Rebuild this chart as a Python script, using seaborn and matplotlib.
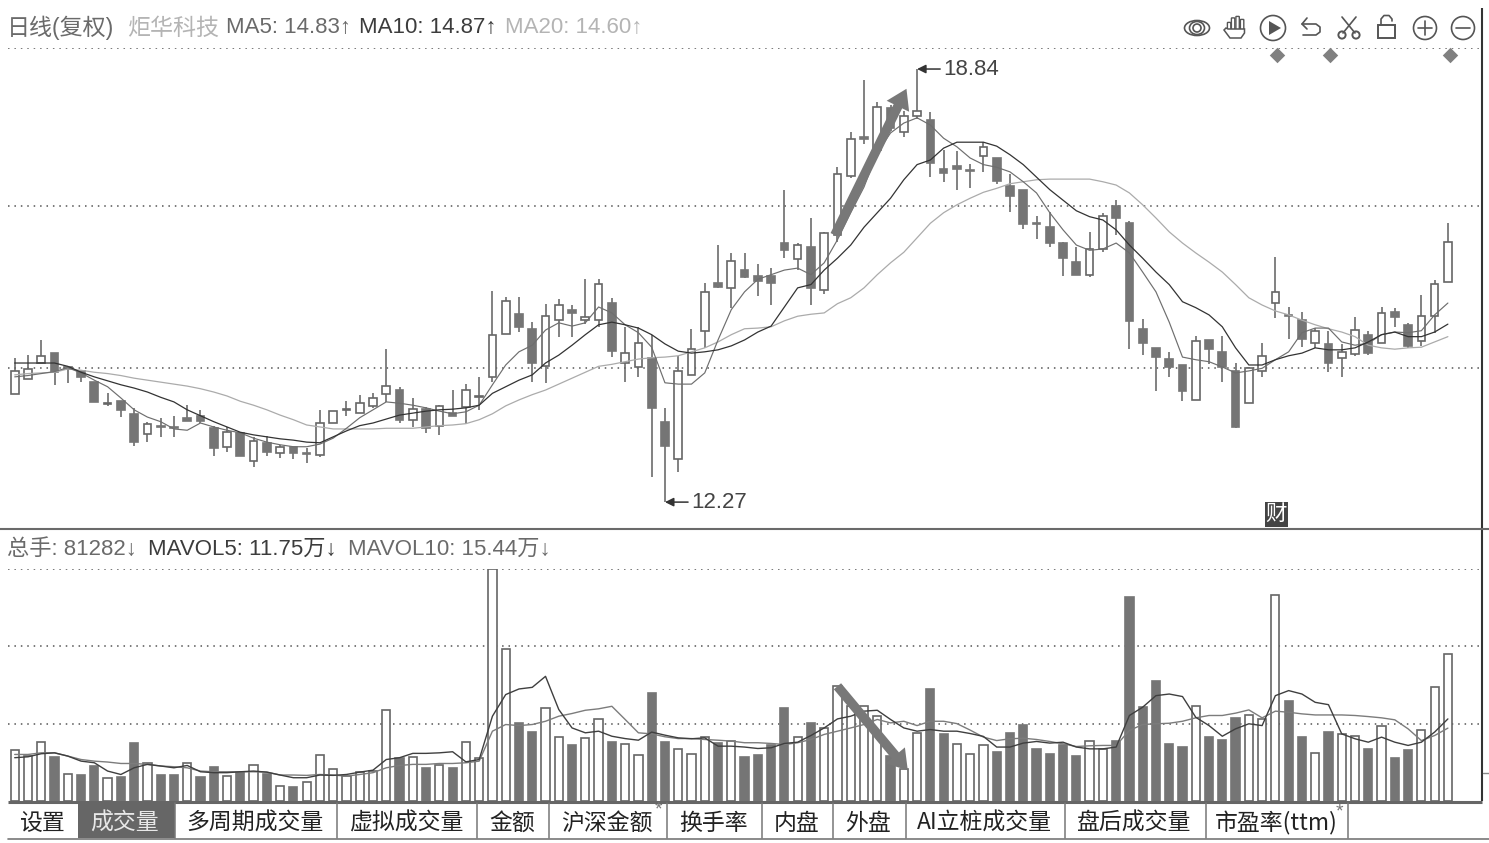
import matplotlib
matplotlib.use("Agg")
import matplotlib.pyplot as plt
from matplotlib.patches import Circle, Ellipse, Rectangle, Polygon, FancyBboxPatch
import numpy as np
import pandas as pd
import seaborn as sns

# Daily prices, one entry per trading day
opens = [13.91,14.14,14.38,14.53,14.29,14.26,14.09,13.76,13.80,13.61,13.30,13.43,13.41,13.55,13.58,13.39,13.11,13.32,12.89,13.17,
         13.02,13.11,13.02,12.99,13.47,13.67,13.62,13.73,13.91,13.97,13.52,13.68,13.43,13.62,13.71,13.86,14.17,14.82,15.12,14.90,
         14.33,15.03,15.19,15.03,15.03,15.29,14.38,14.32,14.46,13.49,12.92,14.20,14.87,15.59,15.52,15.79,15.70,15.70,16.20,15.96,
         16.14,15.49,16.32,17.22,17.81,17.61,18.25,17.89,18.13,18.07,17.32,17.37,17.31,17.52,17.49,17.07,17.01,16.50,16.44,16.20,
         15.91,15.72,16.11,16.76,16.50,14.90,14.61,14.44,14.35,13.82,14.73,14.55,14.26,13.77,14.26,15.29,15.11,15.03,14.69,14.67,
         14.46,14.52,14.81,14.69,15.15,14.96,14.72,15.09,15.61]
closes = [14.26,14.29,14.49,14.24,14.32,14.17,13.79,13.77,13.67,13.18,13.45,13.41,13.40,13.50,13.50,13.09,13.33,12.97,13.20,13.03,
          13.11,13.02,13.00,13.47,13.65,13.68,13.77,13.85,14.03,13.52,13.68,13.39,13.73,13.58,13.97,13.88,14.80,15.32,14.93,14.38,
          15.09,15.26,15.14,15.08,15.58,14.56,14.53,14.68,13.70,13.12,14.26,14.60,15.46,15.53,15.93,15.69,15.63,15.59,16.09,16.17,
          15.52,16.35,17.25,17.78,17.78,18.26,17.95,18.13,18.20,17.42,17.26,17.32,17.29,17.66,17.14,16.92,16.49,16.49,16.20,15.97,
          15.72,16.11,16.61,16.58,15.02,14.69,14.47,14.32,13.96,14.71,14.59,14.32,13.41,14.30,14.49,15.46,15.09,14.75,14.87,14.38,
          14.55,14.88,14.53,15.14,15.08,14.64,15.09,15.58,16.22]
highs = [14.46,14.50,14.73,14.53,14.32,14.26,14.09,13.93,13.80,13.70,13.49,13.55,13.58,13.75,13.67,13.43,13.41,13.34,13.26,13.27,
         13.14,13.11,13.09,13.67,13.65,13.80,13.90,13.93,14.59,14.02,13.85,13.71,13.75,13.97,14.06,14.17,15.47,15.38,15.38,15.00,
         15.27,15.35,15.26,15.65,15.65,15.37,14.93,14.93,14.81,13.70,14.49,14.90,15.59,16.17,16.05,16.05,15.88,15.82,17.00,16.20,
         16.58,16.37,17.35,17.89,18.67,18.34,18.30,18.20,18.84,18.19,17.61,17.60,17.40,17.73,17.49,17.24,17.01,16.61,16.67,16.22,
         16.14,16.37,16.66,16.85,16.53,15.05,14.61,14.55,14.35,14.79,14.73,14.79,14.38,14.32,14.68,15.99,15.23,15.15,14.91,14.87,
         14.67,15.08,14.87,15.23,15.21,14.99,15.41,15.64,16.50]
lows = [13.91,14.14,14.38,14.05,14.08,14.09,13.79,13.73,13.56,13.12,13.18,13.26,13.26,13.50,13.47,12.97,13.03,12.97,12.80,12.97,
        12.94,12.92,12.86,12.96,13.47,13.58,13.62,13.70,13.79,13.47,13.41,13.32,13.29,13.58,13.46,13.67,14.09,14.82,14.85,14.09,
        14.08,14.77,14.77,14.97,14.93,14.47,14.09,14.17,12.65,12.27,12.73,14.20,14.61,15.52,15.22,15.67,15.40,15.26,15.97,15.79,
        15.26,15.43,16.21,17.19,17.70,17.55,17.90,17.81,18.08,17.20,17.13,17.01,17.04,17.28,17.10,16.67,16.41,16.26,16.14,15.70,
        15.72,15.69,16.06,16.32,14.59,14.50,13.96,14.17,13.81,13.82,14.37,14.09,13.40,13.77,14.17,15.06,14.75,14.62,14.61,14.24,
        14.17,14.49,14.50,14.69,14.93,14.61,14.64,14.84,15.61]

# Moving averages of the close
ma5 = [14.17,14.19,14.22,14.25,14.31,14.23,14.12,14.02,13.85,13.67,13.56,13.49,13.38,13.36,13.47,13.41,13.36,13.32,13.24,13.18,
       13.14,13.11,13.11,13.15,13.24,13.39,13.55,13.67,13.79,13.77,13.74,13.70,13.65,13.61,13.64,13.74,14.05,14.35,14.55,14.65,
       14.88,14.99,14.94,14.99,15.23,15.14,14.96,14.84,14.62,14.08,14.06,14.06,14.23,14.73,15.19,15.46,15.65,15.72,15.79,15.82,
       15.72,15.90,16.25,16.66,17.05,17.57,17.87,18.02,18.10,17.99,17.79,17.66,17.49,17.39,17.35,17.28,17.13,16.96,16.66,16.40,
       16.17,16.09,16.11,16.20,16.05,15.76,15.46,15.00,14.47,14.43,14.40,14.32,14.23,14.26,14.30,14.43,14.55,14.84,14.91,14.91,
       14.70,14.65,14.68,14.81,14.85,14.84,14.87,15.11,15.29]
ma10 = [14.38,14.38,14.38,14.38,14.33,14.24,14.17,14.11,14.05,14.00,13.94,13.86,13.79,13.67,13.58,13.49,13.41,13.33,13.29,13.26,
        13.23,13.21,13.18,13.17,13.26,13.35,13.43,13.47,13.53,13.59,13.62,13.65,13.67,13.68,13.70,13.74,13.92,14.02,14.12,14.20,
        14.38,14.50,14.65,14.81,14.96,15.00,14.96,14.91,14.81,14.67,14.56,14.53,14.55,14.58,14.64,14.73,14.85,14.94,15.23,15.52,
        15.57,15.79,15.97,16.17,16.44,16.66,16.88,17.16,17.39,17.46,17.64,17.73,17.73,17.73,17.67,17.54,17.39,17.20,17.01,16.85,
        16.69,16.60,16.55,16.40,16.17,15.97,15.76,15.57,15.31,15.22,15.11,14.93,14.61,14.35,14.35,14.43,14.49,14.53,14.61,14.58,
        14.58,14.61,14.70,14.81,14.85,14.78,14.78,14.85,14.97]
ma20 = [14.20,14.22,14.23,14.24,14.29,14.27,14.24,14.22,14.19,14.15,14.12,14.09,14.06,14.03,13.99,13.94,13.88,13.80,13.74,13.67,
        13.59,13.52,13.44,13.41,13.38,13.38,13.38,13.38,13.39,13.39,13.39,13.41,13.43,13.44,13.46,13.52,13.61,13.73,13.82,13.90,
        13.97,14.06,14.15,14.24,14.33,14.36,14.40,14.44,14.46,14.47,14.49,14.55,14.61,14.70,14.81,14.90,14.91,14.93,15.02,15.09,
        15.12,15.14,15.28,15.37,15.52,15.72,15.90,16.06,16.28,16.50,16.66,16.78,16.88,16.97,17.03,17.10,17.13,17.16,17.17,17.17,
        17.17,17.17,17.13,17.08,16.96,16.78,16.58,16.37,16.20,16.05,15.91,15.76,15.57,15.37,15.26,15.17,15.11,15.03,14.96,14.90,
        14.85,14.78,14.65,14.61,14.59,14.61,14.62,14.70,14.78]

# Volume in thousands of lots, with its two averages
volume = [28.2,24.9,32.6,24.5,14.8,14.2,19.4,12.9,13.3,31.9,20.8,14.2,14.2,21.2,13.3,19.0,13.8,16.0,19.9,15.1,
          8.3,7.7,10.7,25.3,17.9,13.8,16.0,16.6,50.3,23.9,24.5,18.1,19.9,18.1,32.6,23.9,128.6,84.2,43.3,38.2,
          51.6,35.6,30.8,34.7,45.2,32.8,31.5,25.3,59.9,32.8,28.6,26.2,35.6,32.2,33.2,24.5,25.4,30.8,51.6,35.6,
          43.3,40.5,63.6,52.5,52.5,47.0,24.9,17.7,37.8,62.1,37.2,31.5,26.2,30.8,27.1,37.6,41.9,28.9,26.2,30.8,
          24.9,33.0,28.6,33.2,113.2,52.0,66.7,31.4,30.2,52.9,35.4,33.6,45.9,47.4,45.5,114.1,55.3,35.4,26.5,38.5,
          37.2,35.9,28.9,41.5,23.9,28.0,39.1,63.4,81.282]
mavol5 = [24.0,24.5,26.2,26.7,24.9,22.1,21.2,16.6,14.7,18.4,20.3,19.4,18.4,19.7,16.2,15.7,15.7,16.2,16.6,16.0,
          14.4,12.9,12.9,14.4,14.2,14.7,16.0,17.1,23.0,24.0,26.4,26.4,26.7,27.3,21.7,23.0,47.0,59.0,62.1,63.0,
          69.1,50.7,40.5,37.8,38.7,35.9,34.6,33.7,38.2,36.5,35.0,34.5,35.0,30.4,30.4,29.9,29.1,29.5,31.9,32.6,
          36.3,40.5,45.5,47.0,49.8,50.3,45.2,40.5,38.7,39.6,38.7,38.7,37.4,35.8,29.9,29.9,32.1,33.0,32.1,32.6,
          29.9,28.9,28.9,29.9,47.4,52.0,58.4,59.3,57.9,46.4,41.8,35.9,40.0,42.8,41.8,58.4,61.2,59.3,54.7,53.4,
          37.2,34.5,32.6,35.4,32.6,30.8,32.6,38.2,45.5]
mavol10 = [25.8,25.8,26.7,26.7,24.9,23.0,22.1,21.6,20.8,20.8,20.3,19.4,19.0,18.4,16.6,16.2,16.2,16.2,16.2,16.0,
           14.4,14.4,14.2,14.7,14.4,13.8,14.7,15.7,18.4,19.7,20.3,20.3,20.8,20.8,21.2,22.1,38.7,42.4,41.8,42.4,
           44.2,47.0,48.5,50.3,51.1,52.5,45.2,37.8,37.2,35.6,34.6,34.6,34.1,33.7,33.2,32.3,32.3,31.9,31.3,32.3,
           34.1,36.9,38.7,40.5,42.4,45.2,43.3,44.2,41.8,44.2,44.2,42.9,39.3,35.4,33.5,34.5,34.8,34.1,33.0,31.7,
           30.2,30.6,30.8,30.8,39.1,42.4,42.8,43.1,44.2,46.1,47.4,47.4,48.7,50.5,46.1,49.8,49.2,48.3,47.7,47.7,
           47.7,47.4,46.8,46.1,45.0,40.0,33.5,36.3,40.4]
# Days whose volume bar is solid
down_volume_days = [3,5,6,8,9,11,12,14,15,17,19,21,29,31,33,38,39,42,45,48,49,53,55,56,57,58,60,66,69,70,
                    74,75,76,77,78,79,80,83,84,85,86,87,88,90,91,92,96,97,99,102,104,105]
event_days = [95.15, 99.1, 108.15]

price_grid = [19.159, 16.762, 14.312]
volume_grid = [128.6, 85.7, 42.9]
header_upper = [("日线(复权)", 7, "#6a6a6a"), ("炬华科技", 127, "#b4b4b4"), ("MA5: 14.83↑", 226, "#6a6a6a"),
                ("MA10: 14.87↑", 359, "#3c3c3c"), ("MA20: 14.60↑", 505, "#b4b4b4")]
header_lower = [("总手: 81282↓", 7, "#6a6a6a"), ("MAVOL5: 11.75万↓", 148, "#3c3c3c"), ("MAVOL10: 15.44万↓", 348, "#6a6a6a")]
tab_labels = ["设置", "成交量", "多周期成交量", "虚拟成交量", "金额", "沪深金额", "换手率", "内盘", "外盘",
              "AI立桩成交量", "盘后成交量", "市盈率(ttm)"]
tab_edges = [8, 78, 175, 337, 477, 549, 667, 762, 833, 906, 1065, 1206, 1348]

sns.set_theme(style="white")
FONTS = ["Liberation Sans", "Noto Sans CJK SC", "DejaVu Sans"]
plt.rcParams["font.family"] = FONTS

W, H = 1489, 843
fig = plt.figure(figsize=(W / 100, H / 100), dpi=100, facecolor="white")
GREY, EDGE = "#757575", "#666666"


def panel(top, bottom):
    return fig.add_axes([8 / W, 1 - bottom / H, (1482 - 8) / W, (bottom - top) / H])


def styled(ax):
    ax.set_xlim(-0.505, 110.57)
    ax.set_xticks([])
    ax.set_yticks([])
    ax.set_xlabel("")
    ax.set_ylabel("")
    for spine in ax.spines.values():
        spine.set_visible(False)
    ax.patch.set_alpha(0)


days = np.arange(len(opens))
frame = pd.DataFrame({"day": days, "open": opens, "close": closes, "high": highs, "low": lows,
                      "ma5": ma5, "ma10": ma10, "ma20": ma20,
                      "vol": volume, "mavol5": mavol5, "mavol10": mavol10})

# Candlesticks
ax = panel(48, 529)
for y in price_grid:
    ax.axhline(y, color="#555555", lw=1.1, ls=(0, (1, 3.2)), zorder=1)
ax.vlines(frame.day, frame.low, frame.high, color=EDGE, lw=1.15, zorder=2)
rising = frame.close >= frame.open
ax.bar(frame.day, frame.close - frame.open, bottom=frame.open, width=0.58,
       color=np.where(rising, "white", GREY), edgecolor=np.where(rising, EDGE, GREY), lw=1.2, zorder=3)
sns.lineplot(data=frame, x="day", y="ma20", ax=ax, color="#ababab", lw=0.9, zorder=4)
sns.lineplot(data=frame, x="day", y="ma5", ax=ax, color="#6e6e6e", lw=0.85, zorder=4)
sns.lineplot(data=frame, x="day", y="ma10", ax=ax, color="#333333", lw=0.9, zorder=4)
ax.scatter(event_days, [19.05] * 3, marker="D", s=62, color="#808080", lw=0, zorder=5, clip_on=False)
ax.set_ylim(11.862, 19.159)
styled(ax)

for label, day, price in [("12.27", 49, 12.27), ("18.84", 68, 18.84)]:
    ax.annotate(label, xy=(day, price), xytext=(19, 0), textcoords="offset points", va="center",
                fontsize=16, color="#444444", zorder=6,
                arrowprops=dict(arrowstyle="-|>,head_length=0.32,head_width=0.16", color="#333333",
                                lw=1.1, shrinkA=0, shrinkB=0))
ax.annotate("", xy=(67.2, 18.54), xytext=(61.8, 16.32), zorder=6,
            arrowprops=dict(width=6.8, headwidth=18, headlength=14, color="#787878", lw=0, shrink=0))

# Volume
vax = panel(569, 801)
for y in volume_grid:
    vax.axhline(y, color="#555555", lw=1.1, ls=(0, (1, 3.2)), zorder=1)
sns.barplot(data=frame, x="day", y="vol", native_scale=True, ax=vax, width=0.62, zorder=3,
            color="white", saturation=1, edgecolor=EDGE, linewidth=1.2, errorbar=None)
for day, bar in zip(frame.day, vax.patches):
    if day in down_volume_days:
        bar.set_facecolor(GREY)
        bar.set_edgecolor(GREY)
sns.lineplot(data=frame, x="day", y="mavol10", ax=vax, color="#7c7c7c", lw=1.0, zorder=4)
sns.lineplot(data=frame, x="day", y="mavol5", ax=vax, color="#3f3f3f", lw=1.0, zorder=4)
vax.set_ylim(0, 128.6)
styled(vax)
vax.annotate("", xy=(67.3, 17.0), xytext=(62.0, 63.6), zorder=6,
             arrowprops=dict(width=6.8, headwidth=18, headlength=14, color="#787878", lw=0, shrink=0))

# Frame, header rows, toolbar and tab strip
chrome = fig.add_axes([0, 0, 1, 1], zorder=10)
chrome.set_xlim(0, W)
chrome.set_ylim(H, 0)
chrome.axis("off")
chrome.patch.set_alpha(0)
chrome.plot([1482, 1482], [8, 801], color="#333333", lw=1.5, solid_capstyle="butt")
chrome.plot([0, W], [529, 529], color="#6a6a6a", lw=1.5)
chrome.plot([8, 1482], [801.5, 801.5], color="#666666", lw=2.2, solid_capstyle="butt")
chrome.plot([1483, 1489], [773, 773], color="#888888", lw=1)
chrome.plot([8, W], [838.5, 838.5], color="#777777", lw=1.2)

for label, x, colour in header_upper:
    size = 16.6 if label[0] in "日炬" else 16
    chrome.text(x, 28, label, fontsize=size, color=colour, va="center", family=FONTS)
for label, x, colour in header_lower:
    chrome.text(x, 549.5, label, fontsize=16, color=colour, va="center", family=FONTS)

chrome.add_patch(Rectangle((78, 803), 97, 35, color="#666666", lw=0))
for left, right, label in zip(tab_edges[:-1], tab_edges[1:], tab_labels):
    active = label == "成交量"
    chrome.text((left + right) / 2 - (2 if active else 1), 823, label, fontsize=16.5, ha="center", va="center",
                color="#e8e8e8" if active else "#222222", family=["Noto Sans CJK SC", "DejaVu Sans"])
for x in tab_edges[2:]:
    chrome.plot([x, x], [803, 838], color="#777777", lw=1.1)
for x, y in [(658, 810), (1339, 812)]:
    chrome.text(x, y, "*", fontsize=14, ha="center", va="center", color="#777777", family=FONTS)

# 财 badge beside the price panel
chrome.add_patch(Rectangle((1265, 502), 23, 25, color="#444444", lw=0))
chrome.text(1276.5, 514, "财", fontsize=15.5, color="white", ha="center", va="center",
            family=["Noto Sans CJK SC"])

ink = "#555555"
lw = 1.2
# eye
chrome.add_patch(Ellipse((1197, 28), 25, 15, fill=False, ec=ink, lw=lw))
chrome.add_patch(Ellipse((1197, 28), 15, 13, fill=False, ec=ink, lw=lw))
chrome.add_patch(Circle((1197, 28), 4, fill=False, ec=ink, lw=lw))
# hand
for fx, top, bot in [(1228, 23, 30), (1232, 18.5, 30), (1236.5, 17, 30), (1241, 20, 31)]:
    chrome.add_patch(FancyBboxPatch((fx, top), 2.2, bot - top, boxstyle="round,pad=0.6", fc="white", ec=ink, lw=1.0))
chrome.add_patch(Polygon([(1228, 29), (1244.5, 29), (1244.5, 33), (1241, 38), (1230, 38), (1224, 30), (1226, 28)],
                         fc="white", ec=ink, lw=1.1))
# play
chrome.add_patch(Circle((1273, 28), 12.5, fill=False, ec=ink, lw=lw))
chrome.add_patch(Polygon([(1269, 21), (1269, 35), (1281, 28)], color=ink, lw=0))
# back arrow
chrome.plot([1302, 1316, 1320, 1320, 1316, 1303], [24, 24, 27, 32, 35, 35], color=ink, lw=lw)
chrome.plot([1307, 1302, 1307], [18, 24, 29], color=ink, lw=lw)
# scissors
chrome.plot([1342, 1355], [17, 33], color=ink, lw=lw)
chrome.plot([1356, 1343], [17, 33], color=ink, lw=lw)
chrome.add_patch(Circle((1342, 35), 3.6, fill=False, ec=ink, lw=lw + 0.2))
chrome.add_patch(Circle((1356, 35), 3.6, fill=False, ec=ink, lw=lw + 0.2))
# padlock
chrome.add_patch(Rectangle((1378, 25), 17, 13, fill=False, ec=ink, lw=lw + 0.2))
chrome.plot([1381, 1381, 1384, 1389, 1392, 1392], [25, 19, 15.5, 15.5, 19, 21], color=ink, lw=lw)
# zoom buttons
chrome.add_patch(Circle((1425, 28), 11.5, fill=False, ec=ink, lw=lw))
chrome.plot([1418, 1432], [28, 28], color=ink, lw=lw)
chrome.plot([1425, 1425], [21, 35], color=ink, lw=lw)
chrome.add_patch(Circle((1463, 28), 11.5, fill=False, ec=ink, lw=lw))
chrome.plot([1456, 1470], [28, 28], color=ink, lw=lw)

fig.savefig("out.png", dpi=100, facecolor="white")
